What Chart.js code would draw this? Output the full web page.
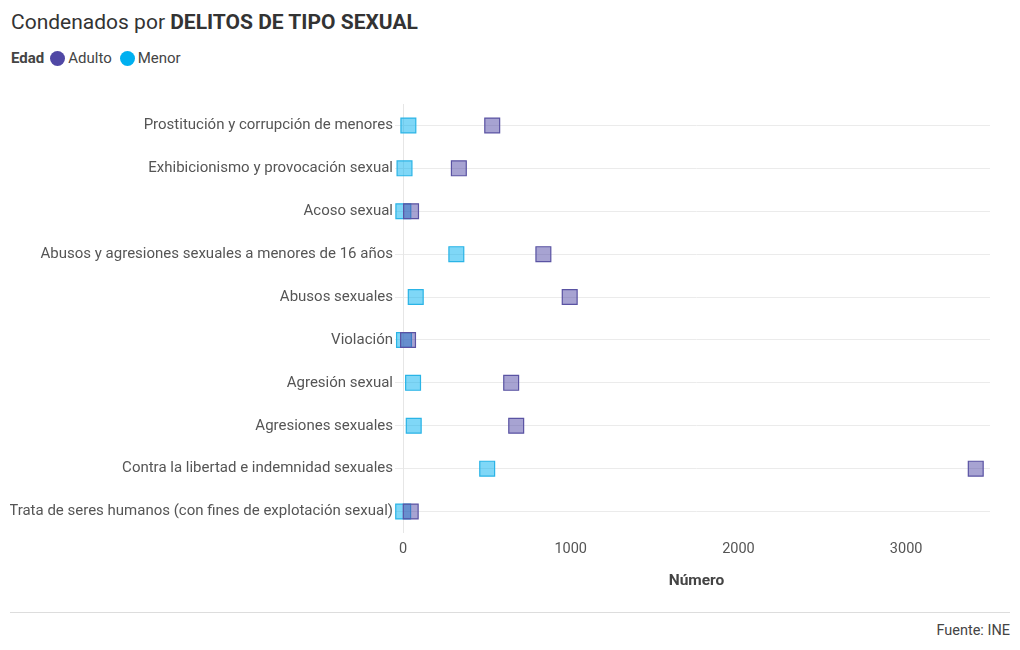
<!DOCTYPE html>
<html>
<head>
<meta charset="utf-8">
<script src="https://cdn.jsdelivr.net/npm/chart.js@4"></script>
<style>
  body { margin: 0; background: #fff; font-family: Roboto, "Noto Sans", sans-serif; color: #333; }
  #wrap { position: relative; width: 1020px; height: 650px; }
  #title { position: absolute; left: 11px; top: 10px; font-size: 21px; color: #333; }
  #title b { font-weight: 700; }
  #legend { position: absolute; left: 11px; top: 49px; font-size: 15px; color: #444; display: flex; align-items: center; }
  #legend b { margin-right: 6px; }
  .dot { display: inline-block; width: 15px; height: 15px; border-radius: 50%; margin-right: 3px; }
  .item { display: flex; align-items: center; margin-right: 8px; }
  #box { position: absolute; left: 0; top: 90px; width: 1020px; height: 510px; }
  #sep { position: absolute; left: 10px; right: 10px; top: 612px; border-top: 1px solid #ddd; }
  #source { position: absolute; right: 10px; top: 622px; font-size: 14.5px; color: #444; }
</style>
</head>
<body>
<div id="wrap">
  <div id="title">Condenados por <b>DELITOS DE TIPO SEXUAL</b></div>
  <div id="legend">
    <b>Edad</b>
    <span class="item"><span class="dot" style="background:#5048a5"></span>Adulto</span>
    <span class="item"><span class="dot" style="background:#00b0f0"></span>Menor</span>
  </div>
  <div id="box"><canvas id="chart"></canvas></div>
  <div id="sep"></div>
  <div id="source">Fuente: INE</div>
</div>
<script>
const categories = [
  "Prostitución y corrupción de menores",
  "Exhibicionismo y provocación sexual",
  "Acoso sexual",
  "Abusos y agresiones sexuales a menores de 16 años",
  "Abusos sexuales",
  "Violación",
  "Agresión sexual",
  "Agresiones sexuales",
  "Contra la libertad e indemnidad sexuales",
  "Trata de seres humanos (con fines de explotación sexual)"
];
const adulto = [532, 333, 48, 837, 994, 30, 645, 675, 3415, 46];
const menor = [32, 9, 2, 318, 76, 6, 60, 64, 502, 1];
const xTicks = [0, 1000, 2000, 3000];

const ctx = document.getElementById("chart").getContext("2d");

const pointStyle = {
  showLine: false,
  clip: false,
  pointStyle: "rect",
  pointRadius: 10.5,
  pointHoverRadius: 10.5,
  pointBorderWidth: 1.2
};

new Chart(ctx, {
  type: "line",
  data: {
    labels: categories,
    datasets: [
      {
        label: "Adulto",
        data: adulto,
        ...pointStyle,
        backgroundColor: "rgba(80,72,165,0.5)",
        borderColor: "#5a53a3"
      },
      {
        label: "Menor",
        data: menor,
        ...pointStyle,
        backgroundColor: "rgba(0,176,240,0.5)",
        borderColor: "#2ab4e6"
      }
    ]
  },
  options: {
    indexAxis: "y",
    responsive: true,
    maintainAspectRatio: false,
    animation: false,
    layout: { padding: { left: 10, right: 30, top: 14, bottom: 6 } },
    plugins: { legend: { display: false }, tooltip: { enabled: false } },
    scales: {
      y: {
        type: "category",
        offset: true,
        border: { display: false },
        grid: { color: "#ebebeb", tickLength: 8, offset: false },
        ticks: { color: "#555", font: { family: "Roboto", size: 15 }, padding: 2 },
        afterFit: (scale) => { scale.width = 393; }
      },
      x: {
        type: "linear",
        min: 0,
        max: 3500,
        afterBuildTicks: (scale) => { scale.ticks = xTicks.map(v => ({ value: v })); },
        border: { display: false },
        grid: {
          color: (c) => c.tick && c.tick.value === 0 ? "#e6e6e6" : "rgba(0,0,0,0)",
          drawTicks: false
        },
        ticks: {
          color: "#555",
          font: { family: "Roboto", size: 14.5 },
          padding: 8,
          callback: (v) => String(v)
        },
        title: {
          display: true,
          text: "Número",
          color: "#444",
          font: { family: "Roboto", size: 15.5, weight: "bold" },
          padding: { top: 5 }
        }
      }
    }
  }
});
</script>
</body>
</html>
